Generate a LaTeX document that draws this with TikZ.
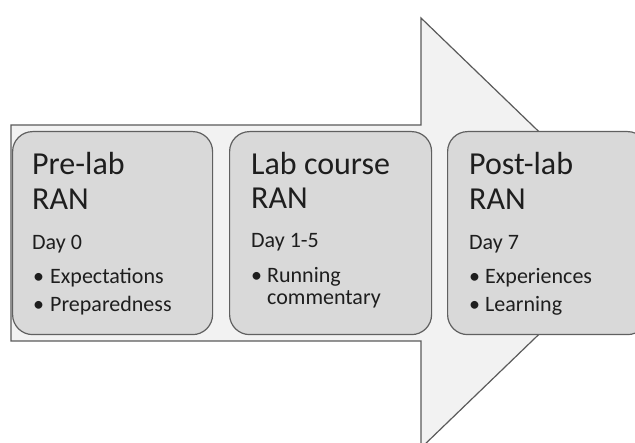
\documentclass[tikz,border=0pt]{standalone}
\usepackage{fontspec}
\setmainfont{Carlito}
\definecolor{arrowfill}{HTML}{F2F2F2}
\definecolor{arrowline}{HTML}{5A5A5A}
\definecolor{boxfill}{HTML}{D9D9D9}
\definecolor{boxline}{HTML}{606060}
\definecolor{txt}{HTML}{1E1E1E}
\begin{document}
\begin{tikzpicture}[x=1pt,y=-1pt,
  stagebox/.style={draw=boxline,fill=boxfill,line width=1.2pt,rounded corners=20pt,anchor=north west,minimum width=200pt,minimum height=203pt,inner sep=0pt},
  ttl/.style={anchor=base west,inner sep=0pt,text=txt,font=\fontsize{32}{35}\selectfont},
  day/.style={anchor=base west,inner sep=0pt,text=txt,font=\fontsize{22}{26}\selectfont},
  itm/.style={anchor=base west,inner sep=0pt,text=txt,font=\fontsize{22}{26}\selectfont},
  bul/.style={anchor=base west,inner sep=0pt,text=txt,font=\fontsize{22}{26}\selectfont}]
\useasboundingbox (0,0) rectangle (635,443);
\clip (0,0) rectangle (635,443);
% big arrow
\draw[draw=arrowline,fill=arrowfill,line width=1.2pt,line join=miter]
  (11,125) -- (421,125) -- (421,18) -- (644,233) -- (421,448) -- (421,341) -- (11,341) -- cycle;
% boxes
\node[stagebox] (b1) at (12,131) {};
\node[stagebox,minimum width=202pt] (b2) at (229,131) {};
\node[stagebox,minimum width=200pt] (b3) at (447,131) {};
% box 1
\node[ttl] (t1a) at (32,175) {Pre-lab};
\node[ttl] (t1b) at (32,210) {RAN};
\node[day] (d1) at (32,250) {Day 0};
\node[bul] (u1a) at (33,284) {•};
\node[itm] (i1a) at (50,284) {Expectations};
\node[bul] (u1b) at (33,312) {•};
\node[itm] (i1b) at (50,312) {Preparedness};
% box 2
\node[ttl] (t2a) at (251,175) {Lab course};
\node[ttl] (t2b) at (251,209) {RAN};
\node[day] (d2) at (251,248) {Day 1-5};
\node[bul] (u2a) at (251,283) {•};
\node[itm] (i2a) at (267,283) {Running};
\node[itm] (i2b) at (267,305) {commentary};
% box 3
\node[ttl] (t3a) at (469,175) {Post-lab};
\node[ttl] (t3b) at (469,210) {RAN};
\node[day] (d3) at (469,250) {Day 7};
\node[bul] (u3a) at (469,284) {•};
\node[itm] (i3a) at (485,284) {Experiences};
\node[bul] (u3b) at (469,312) {•};
\node[itm] (i3b) at (485,312) {Learning};
\end{tikzpicture}
\end{document}
